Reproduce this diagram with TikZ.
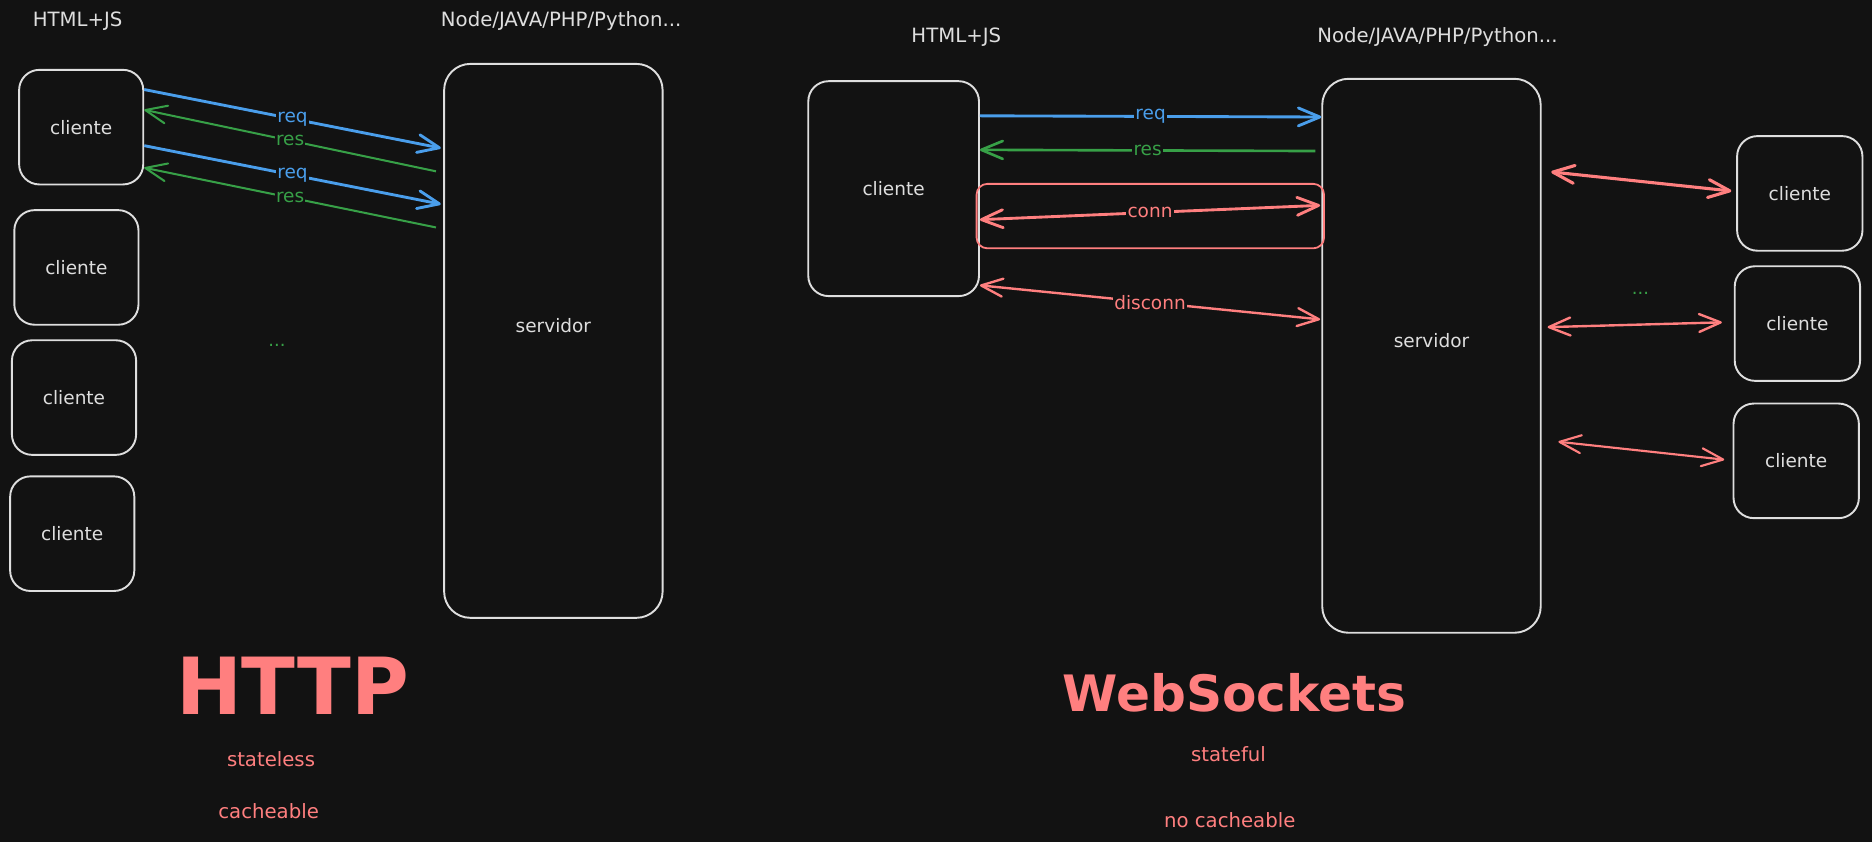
\documentclass[tikz,border=0pt]{standalone}
\usepackage{fontspec}
\setmainfont{DejaVu Sans}
\usetikzlibrary{arrows.meta}
\definecolor{bg}{HTML}{121212}
\definecolor{ink}{HTML}{DEDEDE}
\definecolor{reqblue}{HTML}{4A9EEB}
\definecolor{resgreen}{HTML}{37A047}
\definecolor{wsred}{HTML}{FF7F7F}

\begin{document}
\begin{tikzpicture}[x=1pt,y=-1pt,
  >={Straight Barb[length=18pt,width=15pt,round]},
  txt/.style={text=ink, font=\fontsize{15}{18}\selectfont, inner sep=0pt},
  head/.style={text=ink, font=\fontsize{16.5}{19}\selectfont, inner sep=0pt},
  client/.style={draw=ink, line width=1.6pt, rounded corners=17pt, inner sep=0pt,
    text=ink, font=\fontsize{15.5}{18}\selectfont, minimum width=#1, minimum height=96pt},
  client/.default=104pt,
  server/.style={draw=ink, line width=1.6pt, rounded corners=22pt, inner sep=0pt,
    minimum width=183pt, minimum height=464pt},
  srvlabel/.style={label={[txt, font=\fontsize{15.5}{18}\selectfont, yshift=13pt]center:servidor}},
  reqline/.style={draw=reqblue, line width=2.4pt, ->},
  resline/.style={draw=resgreen, line width=#1, ->},
  resline/.default=1.7pt,
  wsline/.style={draw=wsred, line width=#1, <->},
  wsline/.default=2pt,
  lbl/.style={fill=bg, inner sep=1pt, font=\fontsize{15.5}{18}\selectfont},
  dots/.style={text=resgreen, font=\fontsize{15}{18}\selectfont, inner sep=0pt},
  title/.style={text=wsred, font=\bfseries\fontsize{#1}{#1}\selectfont, inner sep=0pt},
  note/.style={text=wsred, font=\fontsize{16.5}{19}\selectfont, inner sep=0pt}
]
% canvas
\fill[bg] (0,0) rectangle (1568,705);
\useasboundingbox (0,0) rectangle (1568,705);

% ---------------- HTTP ----------------
\node[head] (hjsL) at (65,18) {HTML+JS};
\node[head] (stackL) at (470,18) {Node/JAVA/PHP/Python...};

\node[client] (c1) at (68,106.5) {cliente};
\node[client] (c2) at (64,224) {cliente};
\node[client] (c3) at (62,333) {cliente};
\node[client] (c4) at (60.5,447) {cliente};
\node[server, srvlabel] (srvL) at (463.5,285.5) {};
\node[dots] (dotsL) at (232,289) {...};

\draw[reqline] ([yshift=31.5pt]c1.east) -- node[lbl, text=reqblue] {req} ([xshift=-2pt,yshift=161.5pt]srvL.west);
\draw[resline] ([xshift=-6pt,yshift=142pt]srvL.west) -- node[lbl, text=resgreen] {res} ([yshift=14.5pt]c1.east);
\draw[reqline] ([yshift=-15.5pt]c1.east) -- node[lbl, text=reqblue] {req} ([xshift=-2pt,yshift=114.5pt]srvL.west);
\draw[resline] ([xshift=-6pt,yshift=95pt]srvL.west) -- node[lbl, text=resgreen] {res} ([yshift=-34pt]c1.east);

\node[title=66] (http) at (245,574) {HTTP};
\node[note] (stateless) at (227,636) {stateless};
\node[note] (cacheableL) at (225,679) {cacheable};

% ---------------- WebSockets ----------------
\node[head] (hjsR) at (801,31) {HTML+JS};
\node[head] (stackR) at (1204,31) {Node/JAVA/PHP/Python...};

\node[client=143pt, minimum height=180pt] (cR) at (748.5,158) {cliente};
\node[server, srvlabel] (srvR) at (1199,298) {};
\node[draw=wsred, line width=1.5pt, rounded corners=9pt, minimum width=291pt,
      minimum height=54pt, inner sep=0pt] (connbox) at (963.5,181) {};

\draw[reqline] ([yshift=61pt]cR.east) -- node[lbl, text=reqblue] {req} ([yshift=200pt]srvR.west);
\draw[resline=2.2pt] ([xshift=-5pt,yshift=171.5pt]srvR.west) -- node[lbl, text=resgreen] {res} ([yshift=32.5pt]cR.east);
\draw[wsline=2.4pt] ([yshift=-26pt]cR.east) -- node[lbl, text=wsred] {conn} ([xshift=-1pt,yshift=126pt]srvR.west);
\draw[wsline] ([yshift=-81pt]cR.east) -- node[lbl, text=wsred] {disconn} ([xshift=-1pt,yshift=30.5pt]srvR.west);

\node[client=105pt] (rA) at (1507.5,162) {cliente};
\node[client=105pt] (rB) at (1505.5,271) {cliente};
\node[client=105pt] (rC) at (1504.5,386) {cliente};
\node[dots] (dotsR) at (1374,246) {...};

\draw[wsline=2.6pt] ([xshift=8pt,yshift=154pt]srvR.east) -- ([xshift=-4pt,yshift=2pt]rA.west);
\draw[wsline] ([xshift=5pt,yshift=24pt]srvR.east) -- ([xshift=-10pt,yshift=1pt]rB.west);
\draw[wsline=1.8pt] ([xshift=14pt,yshift=-72pt]srvR.east) -- ([xshift=-7pt,yshift=1pt]rC.west);

\node[title=42] (ws) at (1034,580) {WebSockets};
\node[note] (stateful) at (1029,632) {stateful};
\node[note] (cacheableR) at (1030,687) {no cacheable};
\end{tikzpicture}
\end{document}
